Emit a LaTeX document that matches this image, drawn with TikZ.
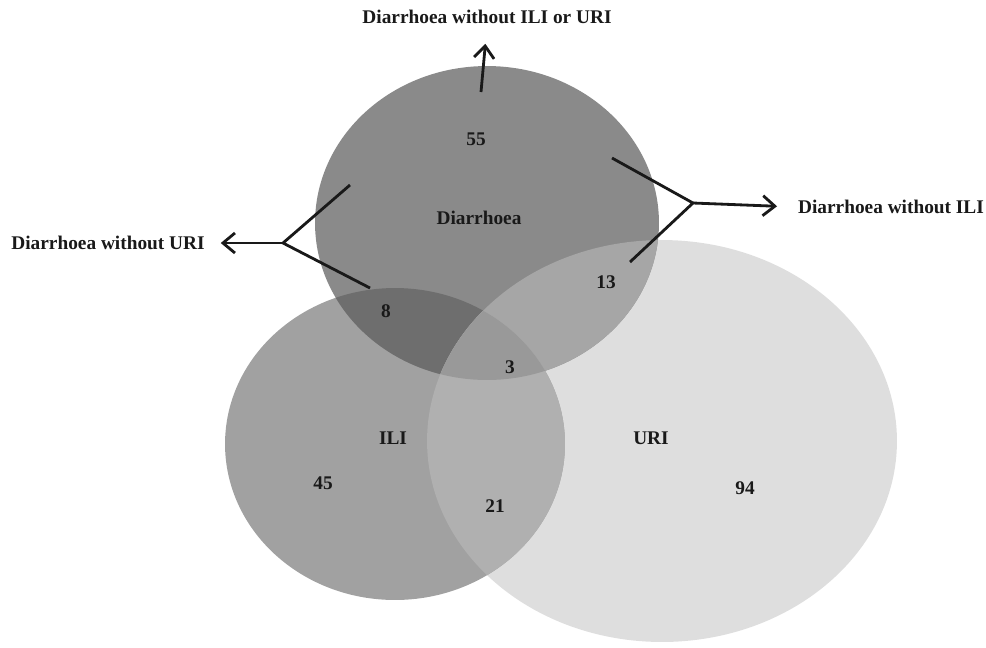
\documentclass[tikz,border=0pt]{standalone}
\usepackage{fontspec}
\setmainfont{Liberation Serif}
\usetikzlibrary{arrows.meta}

\definecolor{dOnly}{gray}{0.54}
\definecolor{iOnly}{gray}{0.63}
\definecolor{uOnly}{gray}{0.87}
\definecolor{diFill}{gray}{0.43}
\definecolor{duFill}{gray}{0.65}
\definecolor{iuFill}{gray}{0.69}
\definecolor{diuFill}{gray}{0.60}

\begin{document}
\begin{tikzpicture}[
    x=0.02cm, y=-0.02cm,
    font=\bfseries\fontsize{11}{13}\selectfont,
    >={Straight Barb[length=2.4mm, width=4mm]},
    outlbl/.style={
        text=black!90,
        inner sep=1pt
    },
    setnum/.style={
        text=black!90,
        inner sep=1pt
    },
    pointer/.style={
        line width=1.6pt,
        draw=black!90
    }
]
\useasboundingbox (0,0) rectangle (986,647);

\def\diarset{(487,223) ellipse [x radius=3.44cm, y radius=3.14cm]}
\def\iliset{(395,444) ellipse [x radius=3.40cm, y radius=3.12cm]}
\def\uriset{(662,441) ellipse [x radius=4.70cm, y radius=4.02cm]}

% Single sets
\fill[uOnly] \uriset;
\fill[iOnly] \iliset;
\fill[dOnly] \diarset;

% Overlaps
\begin{scope}
    \clip \diarset;
    \fill[diFill] \iliset;
\end{scope}
\begin{scope}
    \clip \diarset;
    \fill[duFill] \uriset;
\end{scope}
\begin{scope}
    \clip \iliset;
    \fill[iuFill] \uriset;
\end{scope}
\begin{scope}
    \clip \diarset;
    \clip \iliset;
    \fill[diuFill] \uriset;
\end{scope}

% Counts and set names
\node[setnum] (n55) at (476,139) {55};
\node[setnum] (diar) at (479,218) {Diarrhoea};
\node[setnum] (n8) at (386,311) {8};
\node[setnum] (n13) at (606,282) {13};
\node[setnum] (n3) at (510,367) {3};
\node[setnum] (ili) at (393,438) {ILI};
\node[setnum] (uri) at (651,438) {URI};
\node[setnum] (n45) at (323,483) {45};
\node[setnum] (n21) at (495,506) {21};
\node[setnum] (n94) at (745,488) {94};

% Outer labels
\node[outlbl] (onlyD) at (487,17) {Diarrhoea without ILI or URI};
\node[outlbl] (noURI) at (108,243) {Diarrhoea without URI};
\node[outlbl] (noILI) at (891,207) {Diarrhoea without ILI};

% Pointers
\coordinate (topA) at (481,92);
\draw[pointer, ->, shorten >=0.36cm] (topA) -- (onlyD.south);

\coordinate (lBr) at (283,243);
\coordinate (lUp) at (350,185);
\coordinate (lDn) at (370,288);
\draw[pointer] (lUp) -- (lBr) -- (lDn);
\draw[pointer, ->, shorten >=0.28cm] (lBr) -- (noURI.east);

\coordinate (rBr) at (693,203);
\coordinate (rUp) at (612,158);
\coordinate (rDn) at (630,262);
\draw[pointer] (rUp) -- (rBr) -- (rDn);
\draw[pointer, ->, shorten >=0.38cm] (rBr) -- (noILI.west);

\end{tikzpicture}
\end{document}
